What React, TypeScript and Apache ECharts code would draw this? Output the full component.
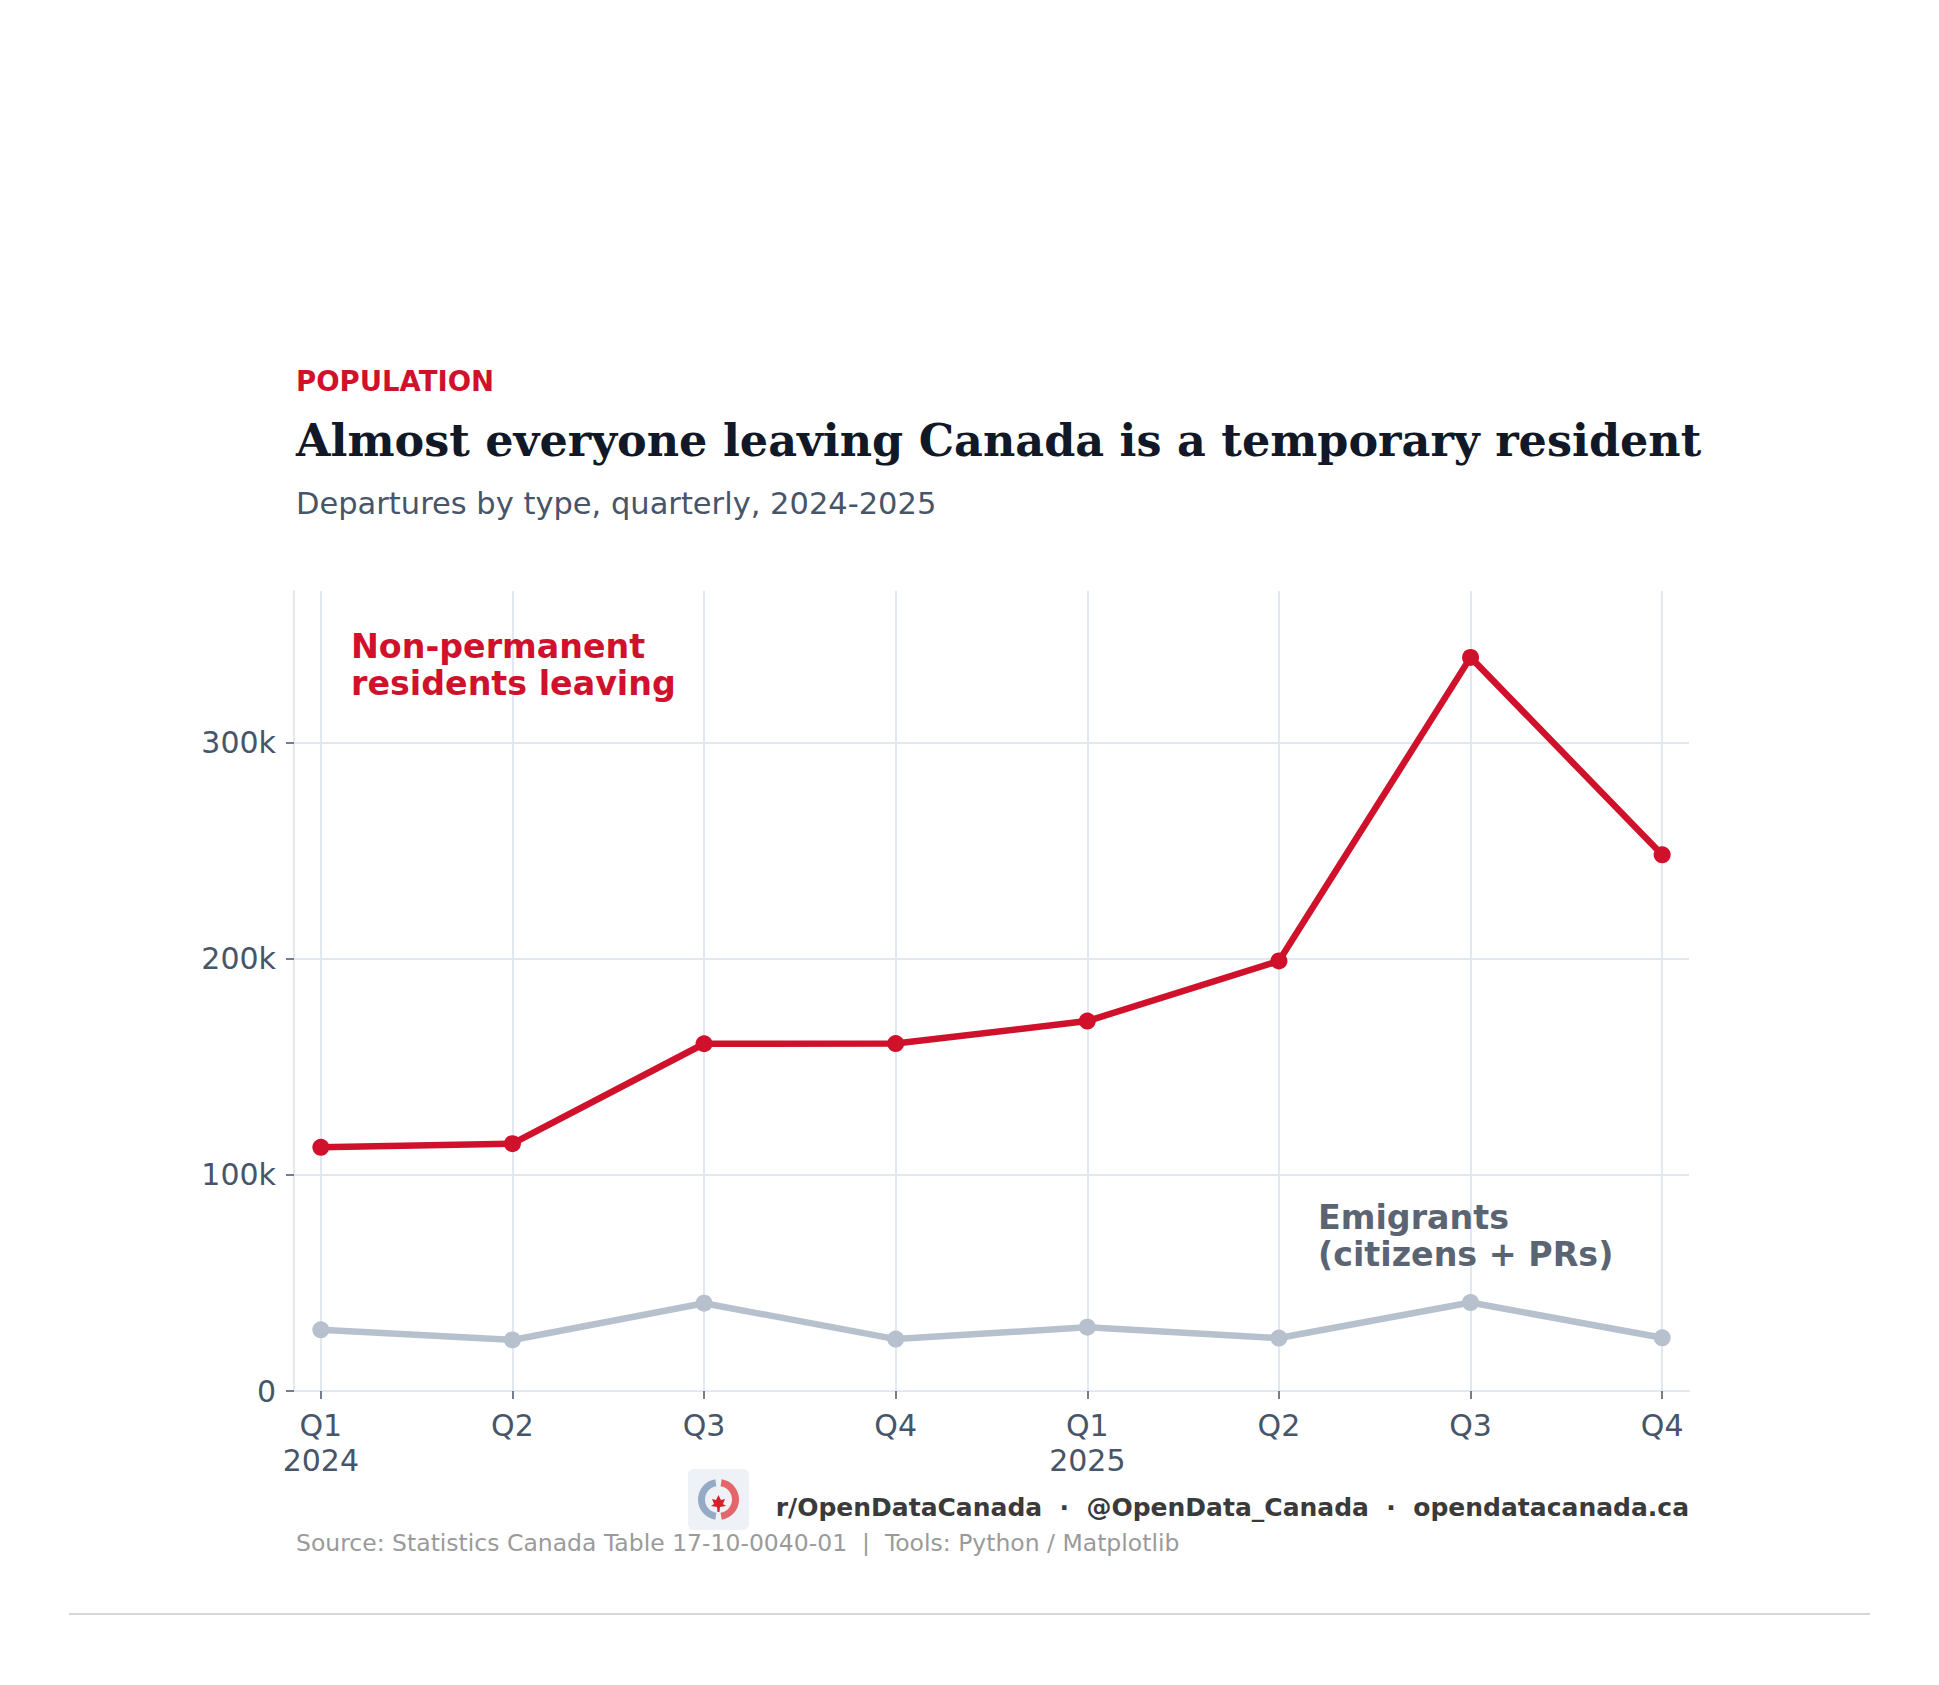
import React, { useEffect, useRef } from "react";
import * as echarts from "echarts";

const quarters = ["Q1\n2024", "Q2", "Q3", "Q4", "Q1\n2025", "Q2", "Q3", "Q4"];
const nonPermanent = [112700, 114400, 160600, 160700, 171100, 198900, 339300, 248000];
const emigrants = [28300, 23600, 40600, 24000, 29500, 24500, 40900, 24600];
const yTicks = [0, 100000, 200000, 300000];

const RED = "#D0112B";
const GRAYLINE = "#B7C1CD";
const GRID = "#E2E8F0";
const TICK = "#475569";
const SANS = "'DejaVu Sans', sans-serif";
const SERIF = "'DejaVu Serif', serif";

export default function App() {
  const ref = useRef<HTMLDivElement>(null);
  useEffect(() => {
    if (!ref.current) return;
    const chart = echarts.init(ref.current, undefined, { renderer: "svg" });
    const xIdx = quarters.map((_, i) => i);
    const option: any = {
      animation: false,
      backgroundColor: "#ffffff",
      textStyle: { fontFamily: SANS },
      grid: { left: 294, right: 250, top: 591, bottom: 294 },
      xAxis: {
        type: "value",
        min: -0.14,
        max: 7.14,
        axisLine: { show: true, onZero: false, lineStyle: { color: GRID, width: 2 } },
        axisTick: { show: true, customValues: xIdx, length: 8, lineStyle: { color: TICK, width: 1.5 } },
        axisLabel: {
          customValues: xIdx,
          formatter: (v: number) => quarters[Math.round(v)] ?? "",
          color: TICK,
          fontSize: 30,
          lineHeight: 35,
          margin: 17,
          fontFamily: SANS,
        },
        splitLine: { show: false },
      },
      yAxis: {
        type: "value",
        min: 0,
        max: 370000,
        axisLine: { show: true, onZero: false, lineStyle: { color: GRID, width: 2 } },
        axisTick: { show: true, customValues: yTicks, length: 8, lineStyle: { color: TICK, width: 1.5 } },
        axisLabel: {
          customValues: yTicks,
          formatter: (v: number) => (v === 0 ? "0" : `${Math.round(v / 1000)}k`),
          color: TICK,
          fontSize: 30,
          margin: 18,
          fontFamily: SANS,
        },
        splitLine: { show: false },
      },
      series: [
        {
          name: "grid",
          type: "line",
          data: [],
          z: 0,
          silent: true,
          markLine: {
            z: 0,
            silent: true,
            symbol: ["none", "none"],
            label: { show: false },
            lineStyle: { color: GRID, width: 2, type: "solid" },
            data: [
              ...xIdx.map((i) => ({ xAxis: i })),
              ...yTicks.filter((v) => v > 0).map((v) => ({ yAxis: v })),
            ],
          },
        },
        {
          name: "Emigrants",
          type: "line",
          data: emigrants.map((v, i) => [i, v]),
          symbol: "circle",
          symbolSize: 17,
          itemStyle: { color: GRAYLINE },
          lineStyle: { color: GRAYLINE, width: 6.5 },
          z: 3,
        },
        {
          name: "Non-permanent residents leaving",
          type: "line",
          data: nonPermanent.map((v, i) => [i, v]),
          symbol: "circle",
          symbolSize: 17,
          itemStyle: { color: RED },
          lineStyle: { color: RED, width: 6.5 },
          z: 4,
        },
      ],
      graphic: [
        {
          type: "text",
          z: 100,
          x: 296,
          y: 381,
          style: { text: "POPULATION", fill: RED, fontSize: 27.5, fontWeight: "bold", fontFamily: SANS, verticalAlign: "middle" },
        },
        {
          type: "text",
          z: 100,
          x: 296,
          y: 440,
          style: {
            text: "Almost everyone leaving Canada is a temporary resident",
            fill: "#111827",
            fontSize: 44.5,
            fontWeight: "bold",
            fontFamily: SERIF,
            verticalAlign: "middle",
          },
        },
        {
          type: "text",
          z: 100,
          x: 296,
          y: 503,
          style: {
            text: "Departures by type, quarterly, 2024-2025",
            fill: "#475569",
            fontSize: 30.5,
            fontFamily: SANS,
            verticalAlign: "middle",
          },
        },
        {
          type: "text",
          z: 100,
          x: 351,
          y: 628,
          style: {
            text: "Non-permanent\nresidents leaving",
            fill: RED,
            fontSize: 33.3,
            lineHeight: 37,
            fontWeight: "bold",
            fontFamily: SANS,
          },
        },
        {
          type: "text",
          z: 100,
          x: 1318,
          y: 1199,
          style: {
            text: "Emigrants\n(citizens + PRs)",
            fill: "#5B6472",
            fontSize: 33.3,
            lineHeight: 37,
            fontWeight: "bold",
            fontFamily: SANS,
          },
        },
        {
          type: "group",
          x: 688,
          y: 1469,
          z: 100,
          children: [
            { type: "rect", shape: { x: 0, y: 0, width: 61, height: 61, r: 6 }, style: { fill: "#EEF1F5" } },
            {
              type: "arc",
              shape: { cx: 30.5, cy: 30.5, r: 17, startAngle: Math.PI * 0.55, endAngle: Math.PI * 1.45 },
              style: { stroke: "#8AA2C0", lineWidth: 7, fill: "none", opacity: 0.9 },
            },
            {
              type: "arc",
              shape: { cx: 30.5, cy: 30.5, r: 17, startAngle: -Math.PI * 0.45, endAngle: Math.PI * 0.45 },
              style: { stroke: "#E0565B", lineWidth: 7, fill: "none", opacity: 0.9 },
            },
            {
              type: "polygon",
              shape: {
                points: [
                  [30.5, 26], [33, 31], [37, 30], [35, 35], [38, 37], [32, 38], [31.5, 43],
                  [29.5, 43], [29, 38], [23, 37], [26, 35], [24, 30], [28, 31],
                ],
              },
              style: { fill: "#D9202A" },
            },
          ],
        },
        {
          type: "text",
          z: 100,
          x: 1689,
          y: 1507,
          style: {
            text: "r/OpenDataCanada  ·  @OpenData_Canada  ·  opendatacanada.ca",
            fill: "#3A3A3A",
            fontSize: 25,
            fontWeight: "bold",
            fontFamily: SANS,
            align: "right",
            verticalAlign: "middle",
          },
        },
        {
          type: "text",
          z: 100,
          x: 296,
          y: 1543,
          style: {
            text: "Source: Statistics Canada Table 17-10-0040-01  |  Tools: Python / Matplotlib",
            fill: "#9A9A9A",
            fontSize: 23.5,
            fontFamily: SANS,
            verticalAlign: "middle",
          },
        },
        {
          type: "line",
          shape: { x1: 69, y1: 1614, x2: 1870, y2: 1614 },
          style: { stroke: "#D6D6D6", lineWidth: 2 },
        },
      ],
    };
    chart.setOption(option);
    return () => chart.dispose();
  }, []);
  return (
    <div
      ref={ref}
      style={{ position: "fixed", left: 0, top: 0, width: 1939, height: 1685, background: "#fff" }}
    />
  );
}
